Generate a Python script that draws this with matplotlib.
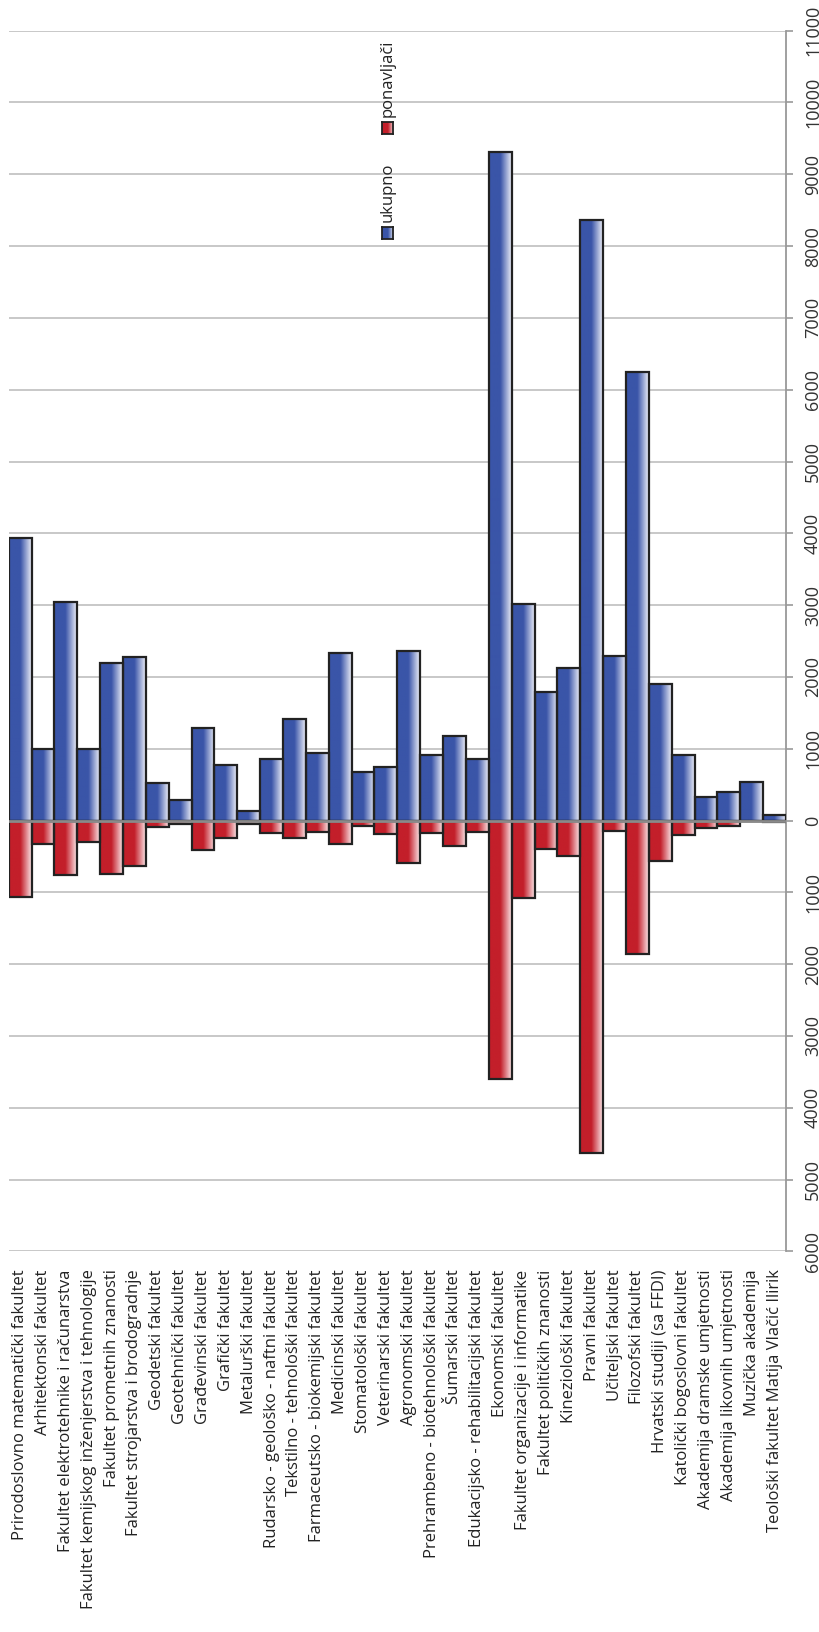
import numpy as np
import matplotlib.pyplot as plt
from matplotlib.colors import LinearSegmentedColormap
from matplotlib.ticker import FuncFormatter, MultipleLocator

plt.rcParams['font.family'] = ['Open Sans', 'DejaVu Sans']

fakulteti = ['Prirodoslovno matematički fakultet',
             'Arhitektonski fakultet',
             'Fakultet elektrotehnike i računarstva',
             'Fakultet kemijskog inženjerstva i tehnologije',
             'Fakultet prometnih znanosti',
             'Fakultet strojarstva i brodogradnje',
             'Geodetski fakultet',
             'Geotehnički fakultet',
             'Građevinski fakultet',
             'Grafički fakultet',
             'Metalurški fakultet',
             'Rudarsko - geološko - naftni fakultet',
             'Tekstilno - tehnološki fakultet',
             'Farmaceutsko - biokemijski fakultet',
             'Medicinski fakultet',
             'Stomatološki fakultet',
             'Veterinarski fakultet',
             'Agronomski fakultet',
             'Prehrambeno - biotehnološki fakultet',
             'Šumarski fakultet',
             'Edukacijsko - rehabilitacijski fakultet',
             'Ekonomski fakultet',
             'Fakultet organizacije i informatike',
             'Fakultet političkih znanosti',
             'Kineziološki fakultet',
             'Pravni fakultet',
             'Učiteljski fakultet',
             'Filozofski fakultet',
             'Hrvatski studiji (sa FFDI)',
             'Katolički bogoslovni fakultet',
             'Akademija dramske umjetnosti',
             'Akademija likovnih umjetnosti',
             'Muzička akademija',
             'Teološki fakultet Matija Vlačić Ilirik']

ukupno = [3940, 990, 3045, 995, 2195, 2283, 523, 290, 1294, 774, 132, 853,
          1415, 941, 2339, 676, 741, 2362, 917, 1182, 862, 9313, 3013, 1786,
          2125, 8360, 2288, 6245, 1898, 917, 332, 397, 537, 80]

ponavljaci = [1069, 325, 762, 293, 746, 630, 86, 50, 407, 240, 45, 179,
              248, 156, 328, 77, 188, 595, 179, 360, 156, 3593, 1080, 397,
              499, 4630, 146, 1861, 564, 207, 100, 72, 5, 20]

serije = ['ukupno', 'ponavljači']
boje = ['#3a55a8', '#c31f2a']
svijetle = ['#eceef8', '#fbe4e6']


def gradijent(c0, c1):
    return LinearSegmentedColormap.from_list('g', [(0, c0), (0.5, c0), (1, c1)])


grad = np.linspace(0, 1, 64).reshape(1, -1)

fig = plt.figure(figsize=(8.19, 16.32), dpi=100)
ax = fig.add_axes([0.0106, 0.2332, 0.9491, 0.7480])

x = np.arange(len(fakulteti))
vrijednosti = [ukupno, [-v for v in ponavljaci]]

for vals, c0, c1 in zip(vrijednosti, boje, svijetle):
    cmap = gradijent(c0, c1)
    bars = ax.bar(x, vals, width=1.0, facecolor='none', edgecolor='#222222',
                  linewidth=1.6, zorder=3)
    for r in bars:
        x0 = r.get_x()
        y0 = r.get_y()
        y1 = y0 + r.get_height()
        ax.imshow(grad, cmap=cmap, aspect='auto', interpolation='bilinear',
                  extent=[x0, x0 + r.get_width(), min(y0, y1), max(y0, y1)],
                  zorder=2)

ax.axhline(0, color='#8a8a8a', lw=2, zorder=4)

ax.set_xlim(-0.5, len(fakulteti) - 0.5)
ax.set_ylim(-6000, 11000)
ax.yaxis.set_major_locator(MultipleLocator(1000))
ax.yaxis.set_major_formatter(FuncFormatter(lambda v, p: f'{abs(int(round(v)))}'))
ax.yaxis.tick_right()
ax.yaxis.grid(True, color='#c4c4c4', lw=1.3)
ax.set_axisbelow(True)

for s in ['left', 'top', 'bottom']:
    ax.spines[s].set_visible(False)
ax.spines['right'].set_color('#999999')
ax.spines['right'].set_linewidth(1.3)

ax.tick_params(axis='y', direction='out', length=5, width=1.2, color='#999999',
               pad=8, labelsize=13, labelcolor='#333333')
for t in ax.get_yticklabels():
    t.set_rotation(90)
    t.set_va('center')

ax.set_xticks(x)
ax.set_xticklabels(fakulteti, rotation=90, ha='center', va='top',
                   fontsize=12, color='#222222')
ax.tick_params(axis='x', length=0, pad=13)

# legenda (zarotirana)
leg_y = [221.7, 116.7]
for naziv, c0, c1, yt in zip(serije, boje, svijetle, leg_y):
    lx = fig.add_axes([381.7 / 819, 1 - (yt + 17) / 1632, 11.6 / 819, 11.6 / 1632])
    lx.imshow(grad, cmap=gradijent(c0, c1), aspect='auto', interpolation='bilinear')
    lx.set_xticks([])
    lx.set_yticks([])
    for sp in lx.spines.values():
        sp.set_color('#222222')
        sp.set_linewidth(1.3)
    fig.text(387.5 / 819, 1 - yt / 1632, naziv, rotation=90, ha='center',
             va='bottom', fontsize=12, color='#222222')

fig.savefig('out.png', dpi=100)
